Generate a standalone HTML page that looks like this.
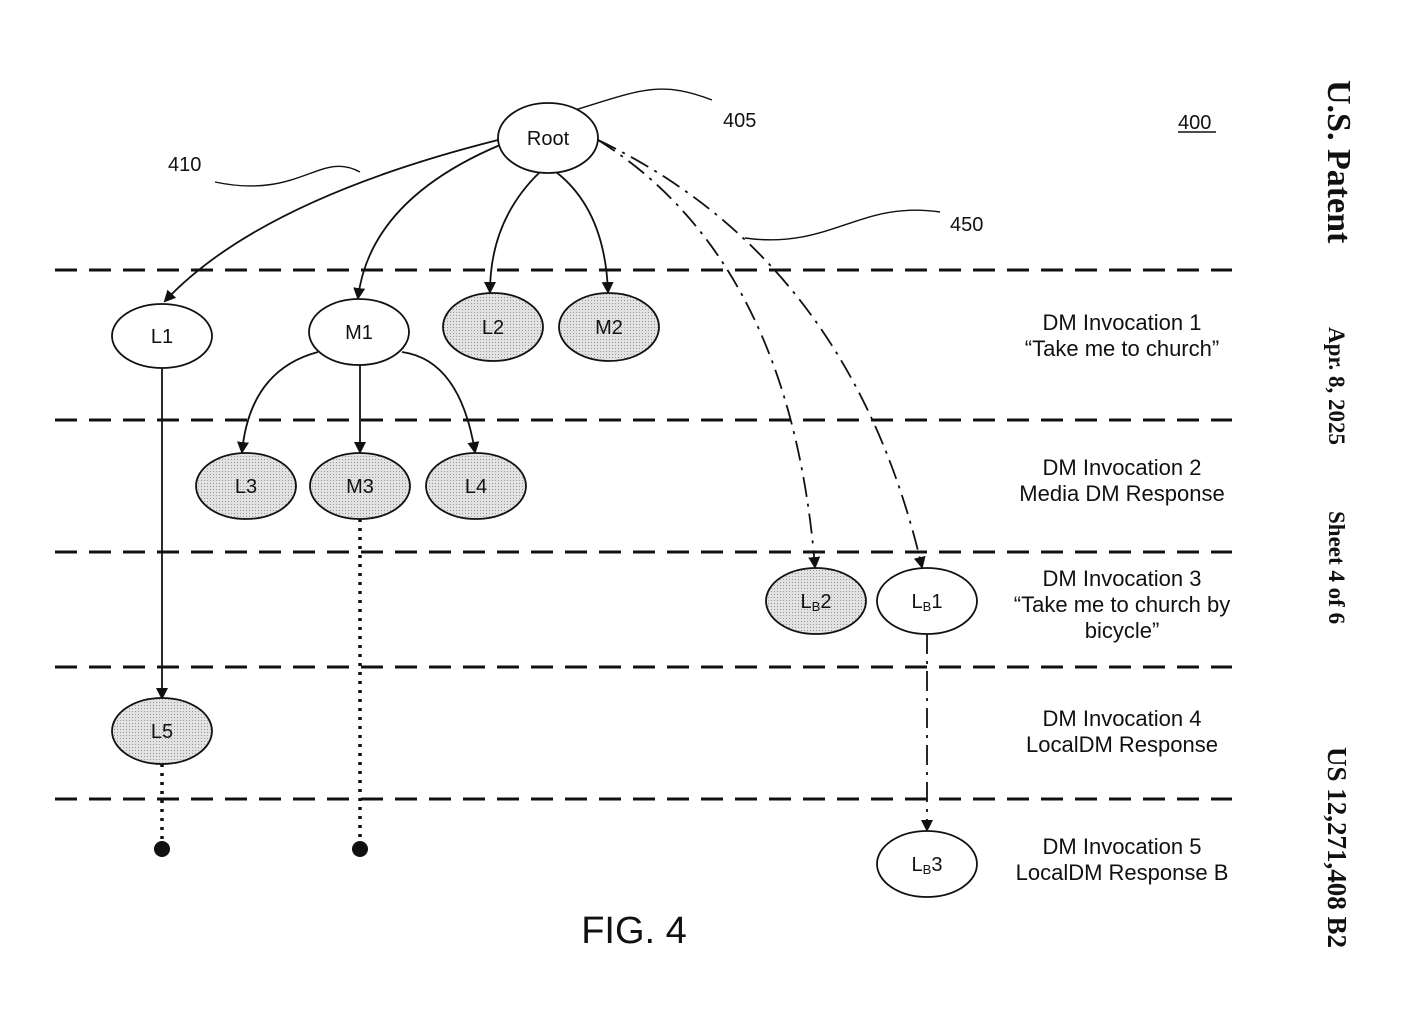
<!DOCTYPE html>
<html><head><style>
body{margin:0;background:#fff}
svg{display:block}
text{font-family:"Liberation Sans",sans-serif;fill:#111}
.v{font-family:"Liberation Serif",serif;font-weight:bold}
</style></head><body>
<svg width="1414" height="1018" viewBox="0 0 1414 1018" xmlns="http://www.w3.org/2000/svg">
<defs>
<marker id="a" markerWidth="12" markerHeight="14" refX="10" refY="6" orient="auto" markerUnits="userSpaceOnUse"><path d="M0,0 L12,6 L0,12 z" fill="#111"/></marker>
<pattern id="g" width="3" height="3" patternUnits="userSpaceOnUse"><rect width="3" height="3" fill="#e2e2e2"/><rect width="1" height="1" fill="#999"/></pattern>
</defs>
<g stroke="#111" stroke-width="3" stroke-dasharray="22,12">
<line x1="55" y1="270" x2="1232" y2="270"/><line x1="55" y1="420" x2="1232" y2="420"/>
<line x1="55" y1="552" x2="1232" y2="552"/><line x1="55" y1="667" x2="1232" y2="667"/>
<line x1="55" y1="799" x2="1232" y2="799"/>
</g>
<g fill="none" stroke="#111" stroke-width="1.8">
<path d="M498,140 Q260,200 165,301" marker-end="url(#a)"/>
<path d="M500,145 Q370,200 358,298" marker-end="url(#a)"/>
<path d="M540,172 Q490,220 490,292" marker-end="url(#a)"/>
<path d="M556,172 Q605,210 608,292" marker-end="url(#a)"/>
<path d="M162,368 L162,698" marker-end="url(#a)"/>
<path d="M318,352 Q250,370 242,452" marker-end="url(#a)"/>
<path d="M360,365 L360,452" marker-end="url(#a)"/>
<path d="M402,352 Q460,360 475,452" marker-end="url(#a)"/>
<path d="M598,140 Q790,260 815,567" stroke-dasharray="20,7,3,7" marker-end="url(#a)"/>
<path d="M598,140 Q850,260 922,567" stroke-dasharray="20,7,3,7" marker-end="url(#a)"/>
<path d="M927,634 L927,830" stroke-dasharray="20,7,3,7" marker-end="url(#a)"/>
<path d="M162,764 L162,848" stroke-width="3.5" stroke-dasharray="3,6"/>
<path d="M360,519 L360,848" stroke-width="3.5" stroke-dasharray="3,6"/>
<path d="M575,110 C640,90 660,80 712,100" stroke-width="1.4"/>
<path d="M215,182 C300,200 320,150 360,172" stroke-width="1.4"/>
<path d="M745,238 C830,250 860,200 940,212" stroke-width="1.4"/>
</g>
<circle cx="162" cy="849" r="8" fill="#111"/><circle cx="360" cy="849" r="8" fill="#111"/>
<g stroke="#111" stroke-width="1.8">
<ellipse cx="548" cy="138" rx="50" ry="35" fill="#fff"/>
<ellipse cx="162" cy="336" rx="50" ry="32" fill="#fff"/>
<ellipse cx="359" cy="332" rx="50" ry="33" fill="#fff"/>
<ellipse cx="493" cy="327" rx="50" ry="34" fill="url(#g)"/>
<ellipse cx="609" cy="327" rx="50" ry="34" fill="url(#g)"/>
<ellipse cx="246" cy="486" rx="50" ry="33" fill="url(#g)"/>
<ellipse cx="360" cy="486" rx="50" ry="33" fill="url(#g)"/>
<ellipse cx="476" cy="486" rx="50" ry="33" fill="url(#g)"/>
<ellipse cx="816" cy="601" rx="50" ry="33" fill="url(#g)"/>
<ellipse cx="927" cy="601" rx="50" ry="33" fill="#fff"/>
<ellipse cx="162" cy="731" rx="50" ry="33" fill="url(#g)"/>
<ellipse cx="927" cy="864" rx="50" ry="33" fill="#fff"/>
</g>
<g font-size="20" text-anchor="middle">
<text x="548" y="145">Root</text><text x="162" y="343">L1</text><text x="359" y="339">M1</text>
<text x="493" y="334">L2</text><text x="609" y="334">M2</text><text x="246" y="493">L3</text>
<text x="360" y="493">M3</text><text x="476" y="493">L4</text><text x="162" y="738">L5</text>
<text x="816" y="608">L<tspan font-size="13" dy="3">B</tspan><tspan dy="-3">2</tspan></text>
<text x="927" y="608">L<tspan font-size="13" dy="3">B</tspan><tspan dy="-3">1</tspan></text>
<text x="927" y="871">L<tspan font-size="13" dy="3">B</tspan><tspan dy="-3">3</tspan></text>
</g>
<g font-size="20">
<text x="723" y="127">405</text><text x="168" y="171">410</text><text x="950" y="231">450</text>
<text x="1178" y="129">400</text>
</g>
<line x1="1178" y1="132" x2="1216" y2="132" stroke="#111" stroke-width="1.5"/>
<g font-size="22" text-anchor="middle">
<text x="1122" y="330">DM Invocation 1</text><text x="1122" y="356">“Take me to church”</text>
<text x="1122" y="475">DM Invocation 2</text><text x="1122" y="501">Media DM Response</text>
<text x="1122" y="586">DM Invocation 3</text><text x="1122" y="612">“Take me to church by</text><text x="1122" y="638">bicycle”</text>
<text x="1122" y="726">DM Invocation 4</text><text x="1122" y="752">LocalDM Response</text>
<text x="1122" y="854">DM Invocation 5</text><text x="1122" y="880">LocalDM Response B</text>
<text x="634" y="943" font-size="38">FIG. 4</text>
</g>
<text transform="translate(1328,80) rotate(90)" font-size="34" class="v">U.S. Patent</text>
<text transform="translate(1329,327) rotate(90)" font-size="23" class="v">Apr. 8, 2025</text>
<text transform="translate(1329,511) rotate(90)" font-size="23" class="v">Sheet 4 of 6</text>
<text transform="translate(1328,747) rotate(90)" font-size="27" class="v">US 12,271,408 B2</text>
</svg>
</body></html>
